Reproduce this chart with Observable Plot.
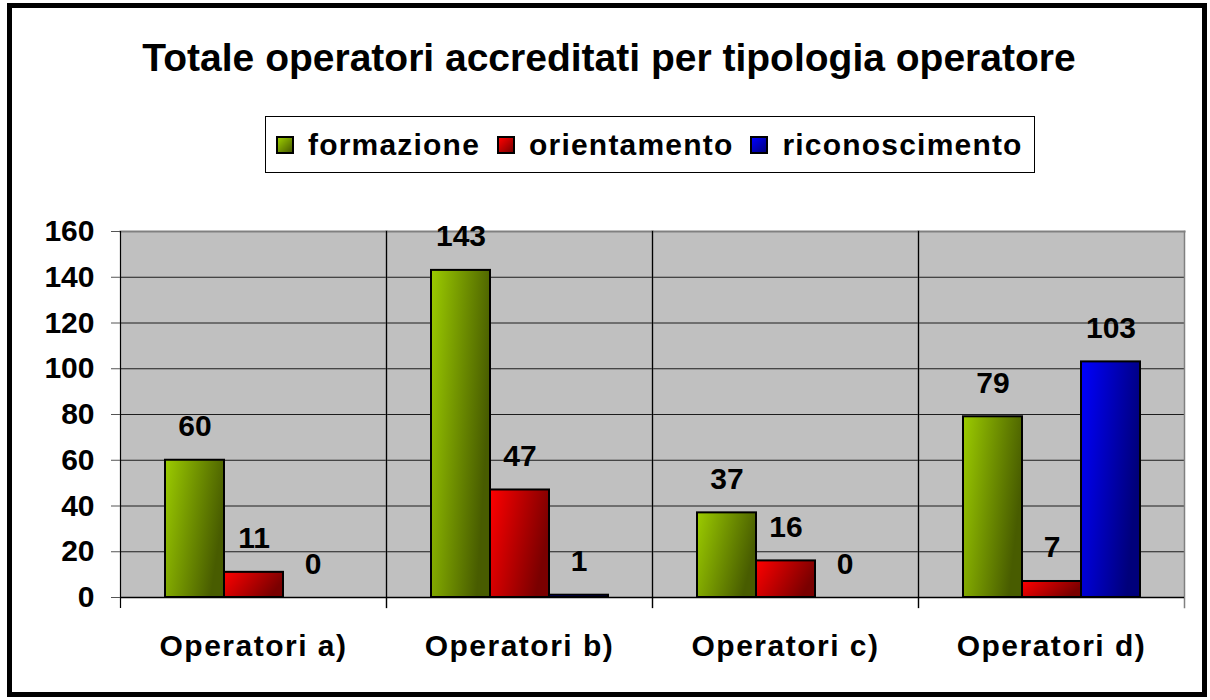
<!DOCTYPE html>
<html>
<head>
<meta charset="utf-8">
<script src="https://cdn.jsdelivr.net/npm/d3@7"></script>
<script src="https://cdn.jsdelivr.net/npm/@observablehq/plot@0.6"></script>
<style>
  body { margin: 0; background: #fff; }
  #wrap { position: relative; width: 1210px; height: 700px; overflow: hidden;
          font-family: "Liberation Sans", Arial, sans-serif; font-weight: bold; color: #000; background: #fff; }
  #border { position: absolute; left: 7px; top: 3px; width: 1200px; height: 694px;
            border: 5px solid #000; box-sizing: border-box; pointer-events: none; }
  #title { position: absolute; left: 0; width: 1218px; top: 38px; font-size: 39px; line-height: 39px;
           text-align: center; white-space: nowrap; }
  #legend { position: absolute; left: 265px; top: 116px; width: 770px; height: 57px; box-sizing: border-box;
            border: 1px solid #000; display: flex; align-items: center; padding-left: 10px; background: #fff; }
  .item { display: flex; align-items: center; margin-right: 17px; }
  .sw { width: 18px; height: 18px; box-sizing: border-box; border: 2px solid #000; margin-right: 14px; }
  .lab { font-size: 30px; letter-spacing: 1.2px; line-height: 30px; white-space: nowrap; }
  #chart { position: absolute; left: 0; top: 200px; }
  #chart [aria-label="fx-axis tick label"] text { letter-spacing: 1.5px; }
</style>
</head>
<body>
<div id="wrap">
  <div id="title">Totale operatori accreditati per tipologia operatore</div>
  <div id="legend"></div>
  <div id="chart"></div>
  <div id="border"></div>
</div>
<script>
// ---- data ----
const categories = ["Operatori a)", "Operatori b)", "Operatori c)", "Operatori d)"];
const seriesNames = ["formazione", "orientamento", "riconoscimento"];
const formazione = [60, 143, 37, 79];
const orientamento = [11, 47, 16, 7];
const riconoscimento = [0, 1, 0, 103];
const yTicks = [0, 20, 40, 60, 80, 100, 120, 140, 160];
const gradientColors = {
  formazione: ["#9ccc00", "#485c00"],
  orientamento: ["#ff0000", "#7a0000"],
  riconoscimento: ["#0000ff", "#00007a"]
};

const seriesValues = {formazione, orientamento, riconoscimento};
const data = categories.flatMap((c, i) =>
  seriesNames.map(s => ({category: c, series: s, value: seriesValues[s][i]})));

// ---- legend ----
const legend = document.getElementById("legend");
for (const s of seriesNames) {
  const item = document.createElement("div");
  item.className = "item";
  const sw = document.createElement("div");
  sw.className = "sw";
  sw.style.background = `linear-gradient(135deg, ${gradientColors[s][0]}, ${gradientColors[s][1]})`;
  const lab = document.createElement("span");
  lab.className = "lab";
  lab.textContent = s;
  item.append(sw, lab);
  legend.append(item);
}

// ---- chart ----
const chart = Plot.plot({
  width: 1210,
  height: 500,
  marginTop: 31,
  marginBottom: 103,
  marginLeft: 119,
  marginRight: 26,
  style: {fontFamily: '"Liberation Sans", Arial, sans-serif', fontWeight: "bold", color: "#000", background: "transparent", overflow: "visible"},
  fx: {domain: categories, padding: 0, label: null},
  x: {domain: seriesNames, paddingInner: 0, paddingOuter: 0.72, axis: null},
  y: {domain: [0, 160], label: null},
  color: {type: "identity"},
  marks: [
    Plot.frame({fill: "#c0c0c0"}),
    Plot.gridY(yTicks, {stroke: "#000", strokeOpacity: 0.85, strokeWidth: 1}),
    Plot.frame({anchor: "top", stroke: "#808080", strokeWidth: 2}),
    Plot.frame({anchor: "right", stroke: "#808080", strokeWidth: 1.5, insetBottom: -10}),
    Plot.frame({anchor: "left", stroke: "#000", strokeWidth: 1.2, insetBottom: -10}),
    Plot.ruleY([0], {stroke: "#000", strokeWidth: 1.5}),
    Plot.barY(data, {fx: "category", x: "series", y: "value",
      fill: d => `url(#grad-${d.series})`, stroke: "#000", strokeWidth: 2}),
    Plot.text(data, {fx: "category", x: "series", y: "value", text: d => String(d.value),
      lineAnchor: "bottom", dy: -24, fontSize: 30, fontWeight: "bold", fill: "#000"}),
    Plot.axisY(yTicks, {tickSize: 9, tickPadding: 17, fontSize: 30, fontWeight: "bold", stroke: "#555", label: null}),
    Plot.axisFx({anchor: "bottom", tickSize: 0, tickPadding: 37, fontSize: 30, fontWeight: "bold", label: null})
  ]
});

// gradient definitions for the bars
const ns = "http://www.w3.org/2000/svg";
const defs = document.createElementNS(ns, "defs");
for (const s of seriesNames) {
  const g = document.createElementNS(ns, "linearGradient");
  g.setAttribute("id", "grad-" + s);
  g.setAttribute("x1", "0"); g.setAttribute("y1", "0");
  g.setAttribute("x2", "1"); g.setAttribute("y2", "0.35");
  gradientColors[s].forEach((c, k) => {
    const st = document.createElementNS(ns, "stop");
    st.setAttribute("offset", k === 0 ? "0" : "1");
    st.setAttribute("stop-color", c);
    g.append(st);
  });
  defs.append(g);
}
chart.insertBefore(defs, chart.firstChild);
document.getElementById("chart").append(chart);
</script>
</body>
</html>
